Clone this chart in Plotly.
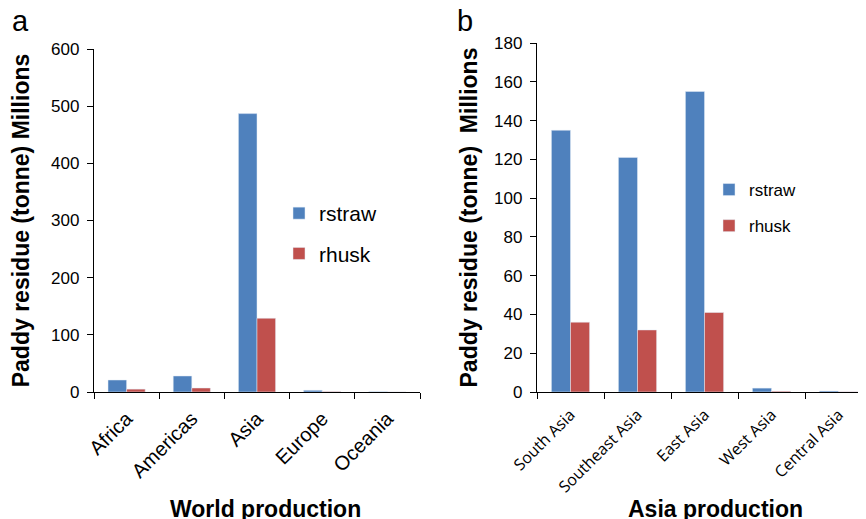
import plotly.graph_objects as go

# ---- data ----
world_regions = ["Africa", "Americas", "Asia", "Europe", "Oceania"]
world_rstraw = [21, 28, 487, 3, 0.5]
world_rhusk = [5, 7, 129, 0.8, 0.1]

asia_regions = ["South Asia", "Southeast Asia", "East Asia", "West Asia", "Central Asia"]
asia_rstraw = [135, 121, 155, 2, 0.5]
asia_rhusk = [36, 32, 41, 0.4, 0.1]

BLUE = "#4F81BD"
RED = "#C0504D"
OFF = 8  # page body margin offset
W, H = 866 - OFF, 519 - OFF

fig = go.Figure()
fig.add_trace(go.Bar(x=world_regions, y=world_rstraw, name="rstraw", marker_color=BLUE,
                     xaxis="x", yaxis="y", legend="legend", legendgroup="a1"))
fig.add_trace(go.Bar(x=world_regions, y=world_rhusk, name="rhusk", marker_color=RED,
                     xaxis="x", yaxis="y", legend="legend", legendgroup="a2"))
fig.add_trace(go.Bar(x=asia_regions, y=asia_rstraw, name="rstraw", marker_color=BLUE,
                     xaxis="x2", yaxis="y2", legend="legend2", legendgroup="b1"))
fig.add_trace(go.Bar(x=asia_regions, y=asia_rhusk, name="rhusk", marker_color=RED,
                     xaxis="x2", yaxis="y2", legend="legend2", legendgroup="b2"))

def px_x(p):
    return (p - OFF) / W

def px_y(p):
    return 1 - (p - OFF) / H

axis_common = dict(showline=True, linecolor="black", linewidth=1.3, ticks="outside",
                   tickcolor="black", ticklen=6, tickwidth=1.3, showgrid=False, zeroline=False,
                   automargin=False)

title_font = dict(family="Liberation Sans, Arial", size=23, color="black", weight="bold")

fig.update_layout(
    width=W, height=H,
    margin=dict(l=0, r=0, t=0, b=0, autoexpand=False),
    paper_bgcolor="white", plot_bgcolor="white",
    barmode="group", bargap=0.43, bargroupgap=0,
    font=dict(family="Liberation Sans, Arial", color="black"),
    xaxis=dict(domain=[px_x(94), px_x(420)], anchor="y", type="category", range=[-0.5, 4.5],
               tickson="boundaries", tickangle=-45, ticklabelstandoff=6,
               tickfont=dict(size=20, family="Liberation Sans, Arial"), **axis_common),
    yaxis=dict(domain=[px_y(392), px_y(49)], anchor="x", range=[0, 600], dtick=100,
               tickfont=dict(size=17), ticklabelstandoff=4,
               title=dict(text="Paddy residue (tonne) Millions", font=title_font, standoff=17),
               **axis_common),
    xaxis2=dict(domain=[px_x(537), 1.0], anchor="y2", type="category", range=[-0.5, 4.41],
                tickson="boundaries", tickangle=-45, ticklabelstandoff=6,
                tickfont=dict(size=16, family="Open Sans"), **axis_common),
    yaxis2=dict(domain=[px_y(392), px_y(43)], anchor="x2", range=[0, 180], dtick=20,
                tickfont=dict(size=17), ticklabelstandoff=4,
                title=dict(text="Paddy residue (tonne)&nbsp; Millions", font=title_font, standoff=10),
                **axis_common),
    legend=dict(x=px_x(279), y=px_y(193), xanchor="left", yanchor="top",
                font=dict(size=21), itemwidth=30, traceorder="grouped", tracegroupgap=10,
                bgcolor="rgba(0,0,0,0)"),
    legend2=dict(x=px_x(709), y=px_y(172), xanchor="left", yanchor="top",
                 font=dict(size=17), itemwidth=30, traceorder="grouped", tracegroupgap=11,
                 bgcolor="rgba(0,0,0,0)"),
)

annotations = [
    dict(text="a", x=px_x(20), y=px_y(21), xref="paper", yref="paper", showarrow=False,
         font=dict(size=29), xanchor="center", yanchor="middle"),
    dict(text="b", x=px_x(465), y=px_y(21), xref="paper", yref="paper", showarrow=False,
         font=dict(size=29), xanchor="center", yanchor="middle"),
    dict(text="<b>World production</b>", x=px_x(265), y=px_y(509), xref="paper", yref="paper",
         showarrow=False, font=dict(size=23), xanchor="center", yanchor="middle"),
    dict(text="<b>Asia production</b>", x=px_x(715), y=px_y(509), xref="paper", yref="paper",
         showarrow=False, font=dict(size=23), xanchor="center", yanchor="middle"),
]
fig.update_layout(annotations=annotations)

fig.write_html("out.html")
